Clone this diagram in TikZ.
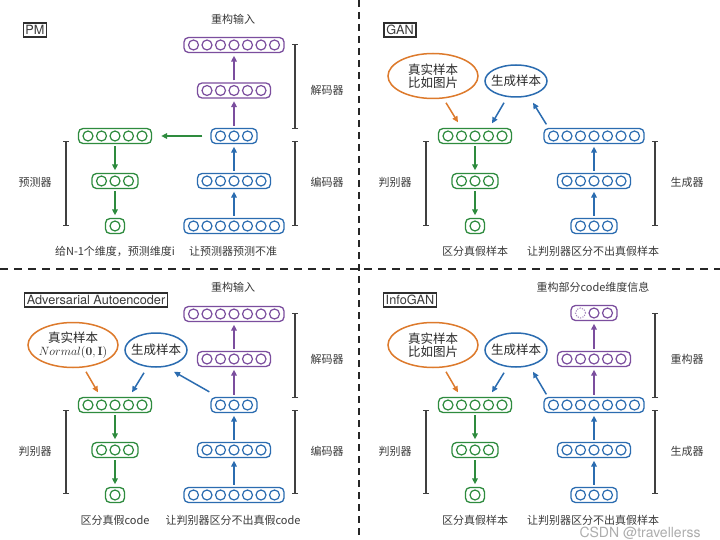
\documentclass[tikz,border=0pt]{standalone}
\usepackage[no-math]{fontspec}
\setmainfont{TeX Gyre Heros}
\newfontfamily\cjk{Noto Sans CJK SC}
\usetikzlibrary{arrows.meta,shapes.geometric,calc}
\definecolor{cgreen}{HTML}{2E8B3E}
\definecolor{cblue}{HTML}{2B6CB0}
\definecolor{cpurple}{HTML}{7B4E9E}
\definecolor{corange}{HTML}{DD7A2C}
\definecolor{ctext}{HTML}{3A3A3A}
\tikzset{
  layerbox/.style={draw, rounded corners=4.5pt, line width=1.3pt, minimum height=15pt, inner sep=0pt},
  unitc/.style={line width=1.2pt},
  arr/.style={line width=1.5pt, -{Triangle[length=6pt,width=5.5pt]}, shorten <=2pt, shorten >=2.5pt},
  arrd/.style={line width=1.5pt, -{Triangle[length=6pt,width=5.5pt]}},
  lbl/.style={font=\cjk\fontsize{11}{13}\selectfont, text=ctext, inner sep=0pt},
  ellbox/.style={ellipse, draw, line width=1.5pt, inner sep=0pt},
  etext/.style={font=\cjk\fontsize{12.5}{13.5}\selectfont, align=center, text=ctext!70!black, inner sep=0pt},
  titlebox/.style={draw=ctext!80!black, line width=1.5pt, inner sep=2.2pt, font=\fontsize{12.7}{14}\selectfont, text=ctext},
  brk/.style={line width=1.1pt, draw=black!75, {Bar[width=6pt]}-{Bar[width=6pt]}},
  divider/.style={line width=2pt, draw=black!85, dash pattern=on 8pt off 6pt}
}
\newcommand{\lyr}[5]{%
  \node[layerbox, draw=#5, minimum width={#4*13.5pt+5.5pt}] (#1) at (#2,#3) {};
  \foreach \k in {1,...,#4}{\draw[unitc,#5] ([xshift={(\k-(#4+1)/2)*13.5pt}]#1.center) circle (5pt);}
}
\begin{document}
\begin{tikzpicture}[x=1pt,y=-1pt]
\useasboundingbox (0,0) rectangle (720,540);
\fill[white] (0,0) rectangle (720,540);
% dividers
\coordinate (dl) at (0,269); \coordinate (dr) at (720,269);
\coordinate (dt) at (359,0); \coordinate (db) at (359,540);
\draw[divider] (dl) -- (dr);
\draw[divider, dash pattern=on 7pt off 5pt] (dt) -- (db);

% ================= PM =================
\node[titlebox] (pm) at (35,30) {PM};
\node[lbl] (t1) at (233,19) {重构输入};
\lyr{p1a}{234}{45}{7}{cpurple}
\lyr{p1b}{234}{90.5}{5}{cpurple}
\lyr{b1a}{234}{136}{3}{cblue}
\lyr{b1b}{234}{181}{5}{cblue}
\lyr{b1c}{234}{226}{7}{cblue}
\lyr{g1a}{115}{136}{5}{cgreen}
\lyr{g1b}{115}{181}{3}{cgreen}
\lyr{g1c}{115}{226}{1}{cgreen}
\draw[arr,cblue] (b1c) -- (b1b);
\draw[arr,cblue] (b1b) -- (b1a);
\draw[arr,cpurple] (b1a) -- (p1b);
\draw[arr,cpurple] (p1b) -- (p1a);
\draw[arr,cgreen] (g1a) -- (g1b);
\draw[arr,cgreen] (g1b) -- (g1c);
\draw[arr,cgreen, shorten <=8pt, shorten >=9pt] (b1a.west) -- (g1a.east);
\coordinate (k1a) at (66,141); \coordinate (k1b) at (66,226);
\coordinate (k1c) at (295,44); \coordinate (k1d) at (295,129);
\coordinate (k1e) at (295,141); \coordinate (k1f) at (295,226);
\draw[brk] (k1a) -- (k1b);
\draw[brk] (k1c) -- (k1d);
\draw[brk] (k1e) -- (k1f);
\node[lbl] (l1a) at (35,182) {预测器};
\node[lbl] (l1b) at (327,90) {解码器};
\node[lbl] (l1c) at (327,182) {编码器};
\node[lbl] (l1d) at (115,251) {给N-1个维度，预测维度i};
\node[lbl] (l1e) at (233,251) {让预测器预测不准};

% ================= GAN =================
\node[titlebox] (gan) at (400,30) {GAN};
\node[ellbox, draw=corange, minimum width=90pt, minimum height=45pt] (r2) at (433,76) {};
\node[etext] at (r2) {真实样本\\比如图片};
\node[ellbox, draw=cblue, minimum width=62pt, minimum height=32pt] (e2) at (516,81) {};
\node[etext] at (e2) {生成样本};
\lyr{g2a}{475}{136}{5}{cgreen}
\lyr{g2b}{475}{181}{3}{cgreen}
\lyr{g2c}{475}{226}{1}{cgreen}
\lyr{b2a}{594}{136}{7}{cblue}
\lyr{b2b}{594}{181}{5}{cblue}
\lyr{b2c}{594}{226}{3}{cblue}
\draw[arr,cgreen] (g2a) -- (g2b);
\draw[arr,cgreen] (g2b) -- (g2c);
\draw[arr,cblue] (b2c) -- (b2b);
\draw[arr,cblue] (b2b) -- (b2a);
\draw[arrd,corange] ([xshift=13pt,yshift=-3.5pt]r2.south) -- ([xshift=-17pt,yshift=5.5pt]g2a.north);
\draw[arrd,cblue] ([xshift=-12pt,yshift=-5pt]e2.south) -- ([xshift=17pt,yshift=4.5pt]g2a.north);
\draw[arrd,cblue] ([xshift=3pt,yshift=3.5pt]b2a.north west) -- ([xshift=17pt,yshift=-5pt]e2.south);
\coordinate (k2a) at (426,141); \coordinate (k2b) at (426,226);
\coordinate (k2c) at (655,141); \coordinate (k2d) at (655,226);
\draw[brk] (k2a) -- (k2b);
\draw[brk] (k2c) -- (k2d);
\node[lbl] (l2a) at (395,182) {判别器};
\node[lbl] (l2b) at (687,182) {生成器};
\node[lbl] (l2c) at (475,251) {区分真假样本};
\node[lbl] (l2d) at (593,251) {让判别器区分不出真假样本};

% ================= AAE =================
\node[titlebox] (aae) at (96,300) {Adversarial Autoencoder};
\node[lbl] (t3) at (233,287) {重构输入};
\lyr{p3a}{234}{314}{7}{cpurple}
\lyr{p3b}{234}{359}{5}{cpurple}
\lyr{b3a}{234}{405}{3}{cblue}
\lyr{b3b}{234}{450}{5}{cblue}
\lyr{b3c}{234}{495}{7}{cblue}
\lyr{g3a}{115}{405}{5}{cgreen}
\lyr{g3b}{115}{450}{3}{cgreen}
\lyr{g3c}{115}{495}{1}{cgreen}
\node[ellbox, draw=corange, minimum width=90pt, minimum height=45pt] (r3) at (73,345) {};
\node[etext] at (r3) {真实样本\\[-1pt]{\fontsize{13}{14}\selectfont$Normal(\mathbf{0},\mathbf{I})$}};
\node[ellbox, draw=cblue, minimum width=62pt, minimum height=34pt] (e3) at (156,350) {};
\node[etext] at (e3) {生成样本};
\draw[arr,cblue] (b3c) -- (b3b);
\draw[arr,cblue] (b3b) -- (b3a);
\draw[arr,cpurple] (b3a) -- (p3b);
\draw[arr,cpurple] (p3b) -- (p3a);
\draw[arr,cgreen] (g3a) -- (g3b);
\draw[arr,cgreen] (g3b) -- (g3c);
\draw[arrd,corange] ([xshift=13pt,yshift=-3.5pt]r3.south) -- ([xshift=-17pt,yshift=4.5pt]g3a.north);
\draw[arrd,cblue] ([xshift=-12pt,yshift=-5pt]e3.south) -- ([xshift=17pt,yshift=4.5pt]g3a.north);
\draw[arrd,cblue] ([xshift=-1pt,yshift=5pt]b3a.north west) -- ([xshift=18pt,yshift=-4pt]e3.south);
\coordinate (k3a) at (66,410); \coordinate (k3b) at (66,494);
\coordinate (k3c) at (295,313); \coordinate (k3d) at (295,398);
\coordinate (k3e) at (295,410); \coordinate (k3f) at (295,494);
\draw[brk] (k3a) -- (k3b);
\draw[brk] (k3c) -- (k3d);
\draw[brk] (k3e) -- (k3f);
\node[lbl] (l3a) at (35,451) {判别器};
\node[lbl] (l3b) at (327,359) {解码器};
\node[lbl] (l3c) at (327,451) {编码器};
\node[lbl] (l3d) at (115,520) {区分真假code};
\node[lbl] (l3e) at (233,520) {让判别器区分不出真假code};

% ================= InfoGAN =================
\node[titlebox] (info) at (410,300) {InfoGAN};
\node[lbl] (t4) at (593,287) {重构部分code维度信息};
\lyr{p4a}{594}{313}{3}{cpurple}
\fill[white] ([xshift=-13.5pt]p4a.center) circle (6pt);
\draw[cpurple!70, line width=1pt, dash pattern=on 1.2pt off 1.3pt] ([xshift=-13.5pt]p4a.center) circle (5pt);
\lyr{p4b}{594}{359}{5}{cpurple}
\lyr{b4a}{594}{405}{7}{cblue}
\lyr{b4b}{594}{450}{5}{cblue}
\lyr{b4c}{594}{495}{3}{cblue}
\lyr{g4a}{475}{405}{5}{cgreen}
\lyr{g4b}{475}{450}{3}{cgreen}
\lyr{g4c}{475}{495}{1}{cgreen}
\node[ellbox, draw=corange, minimum width=90pt, minimum height=45pt] (r4) at (433,345) {};
\node[etext] at (r4) {真实样本\\比如图片};
\node[ellbox, draw=cblue, minimum width=62pt, minimum height=34pt] (e4) at (516,350) {};
\node[etext] at (e4) {生成样本};
\draw[arr,cblue] (b4c) -- (b4b);
\draw[arr,cblue] (b4b) -- (b4a);
\draw[arr,cpurple] (b4a) -- (p4b);
\draw[arr,cpurple] (p4b) -- (p4a);
\draw[arr,cgreen] (g4a) -- (g4b);
\draw[arr,cgreen] (g4b) -- (g4c);
\draw[arrd,corange] ([xshift=13pt,yshift=-3.5pt]r4.south) -- ([xshift=-17pt,yshift=4.5pt]g4a.north);
\draw[arrd,cblue] ([xshift=-12pt,yshift=-5pt]e4.south) -- ([xshift=17pt,yshift=4.5pt]g4a.north);
\draw[arrd,cblue] ([xshift=3pt,yshift=2.5pt]b4a.north west) -- ([xshift=17pt,yshift=-4pt]e4.south);
\coordinate (k4a) at (426,410); \coordinate (k4b) at (426,494);
\coordinate (k4c) at (655,313); \coordinate (k4d) at (655,398);
\coordinate (k4e) at (655,410); \coordinate (k4f) at (655,494);
\draw[brk] (k4a) -- (k4b);
\draw[brk] (k4c) -- (k4d);
\draw[brk] (k4e) -- (k4f);
\node[lbl] (l4a) at (395,451) {判别器};
\node[lbl] (l4b) at (687,359) {重构器};
\node[lbl] (l4c) at (687,451) {生成器};
\node[lbl] (l4d) at (475,520) {区分真假样本};
\node[lbl] (l4e) at (593,520) {让判别器区分不出真假样本};
\node[font=\fontsize{14}{15}\selectfont, text=black!40, opacity=0.8, inner sep=0pt] (wm) at (640,533) {CSDN @travellerss};
\end{tikzpicture}
\end{document}
